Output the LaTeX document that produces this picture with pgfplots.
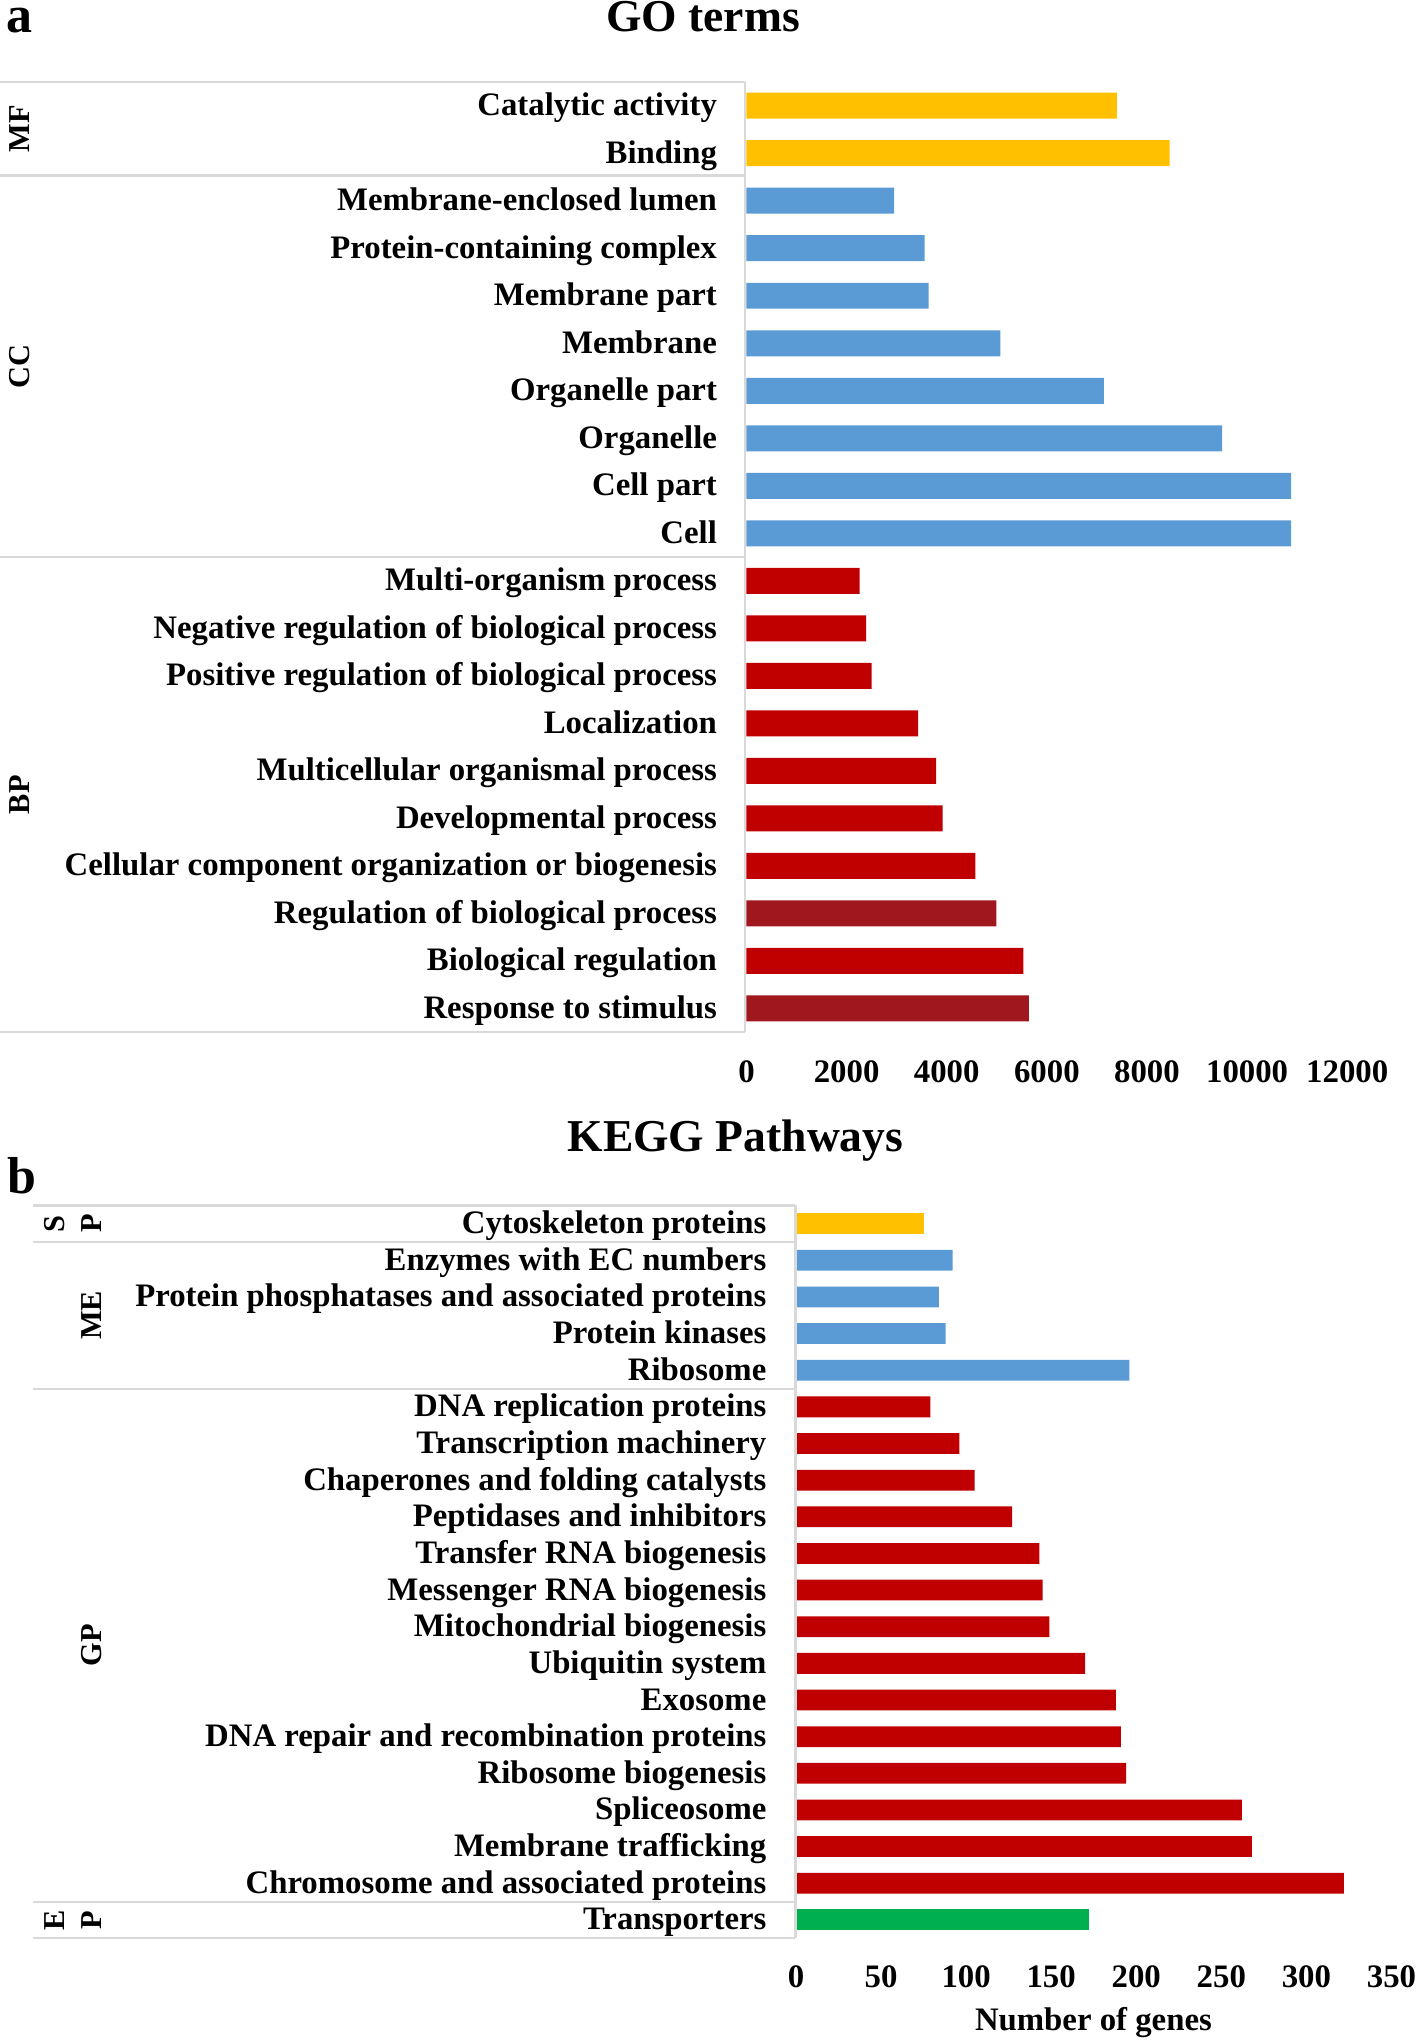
\documentclass[border=0pt]{standalone}
\usepackage{fontspec}
\setmainfont{Liberation Serif}
\usepackage{pgfplots}
\pgfplotsset{compat=1.18}
\definecolor{cy}{HTML}{FFC000}
\definecolor{cb}{HTML}{5B9BD5}
\definecolor{cr}{HTML}{C00000}
\definecolor{cdr}{HTML}{A0171E}
\definecolor{cg}{HTML}{00B050}
\definecolor{cl}{HTML}{D9D9D9}
\newcommand{\lab}{\fontsize{8.2}{9}\selectfont\bfseries}
\newcommand{\grp}{\fontsize{7.6}{9}\selectfont\bfseries}
\pgfplotsset{
  mybar/.style={
    scale only axis, xbar,
    axis line style={draw=none}, major tick length=0pt,
    ymin=0.5, ymax=20.5, ytick={1,...,20},
    yticklabel style={anchor=east, inner sep=0pt, xshift=-7.2pt, font=\lab, text height=0.7em, text depth=0.2em},
    xticklabel style={anchor=north, inner sep=0pt, font=\lab},
    /pgf/number format/assume math mode=true,
    /pgf/number format/1000 sep={},
    scaled x ticks=false,
    clip=false,
  }
}
\begin{document}
\begin{tikzpicture}
\path[use as bounding box] (0,0) rectangle (354.47pt,510.38pt);
% ---------- panel a ----------
\begin{axis}[mybar,
  at={(186.67pt,252.26pt)}, anchor=south west,
  width=150.22pt, height=237.62pt,
  xmin=0, xmax=12000, xtick={0,2000,...,12000},
  xticklabel style={yshift=-7pt},
  bar width=6.5pt,
  yticklabels={Response to stimulus, Biological regulation, Regulation of biological process,
    Cellular component organization or biogenesis, Developmental process,
    Multicellular organismal process, Localization, Positive regulation of biological process,
    Negative regulation of biological process, Multi-organism process, Cell, Cell part,
    Organelle, Organelle part, Membrane, Membrane part, Protein-containing complex,
    Membrane-enclosed lumen, Binding, Catalytic activity},
]
\addplot[xbar, bar shift=0pt, fill=cy, draw=none] coordinates {(7400,20) (8450,19)};
\addplot[xbar, bar shift=0pt, fill=cb, draw=none] coordinates {(2950,18) (3560,17) (3640,16) (5070,15) (7140,14) (9500,13) (10880,12) (10880,11)};
\addplot[xbar, bar shift=0pt, fill=cr, draw=none] coordinates {(2260,10) (2390,9) (2500,8) (3430,7) (3790,6) (3920,5) (4570,4) (5530,2)};
\addplot[xbar, bar shift=0pt, fill=cdr, draw=none] coordinates {(4990,3) (5640,1)};
\end{axis}
% ---------- panel b ----------
\begin{axis}[mybar,
  at={(199.04pt,25.71pt)}, anchor=south west,
  width=148.92pt, height=183.26pt,
  xmin=0, xmax=350, xtick={0,50,...,350},
  xticklabel style={yshift=-6.6pt},
  bar width=5.2pt,
  yticklabels={Transporters, Chromosome and associated proteins, Membrane trafficking,
    Spliceosome, Ribosome biogenesis, DNA repair and recombination proteins, Exosome,
    Ubiquitin system, Mitochondrial biogenesis, Messenger RNA biogenesis,
    Transfer RNA biogenesis, Peptidases and inhibitors, Chaperones and folding catalysts,
    Transcription machinery, DNA replication proteins, Ribosome, Protein kinases,
    Protein phosphatases and associated proteins, Enzymes with EC numbers, Cytoskeleton proteins},
]
\addplot[xbar, bar shift=0pt, fill=cy, draw=none] coordinates {(75,20)};
\addplot[xbar, bar shift=0pt, fill=cb, draw=none] coordinates {(92,19) (84,18) (88,17) (196,16)};
\addplot[xbar, bar shift=0pt, fill=cr, draw=none] coordinates {(79,15) (96,14) (105,13) (127,12) (143,11) (145,10) (149,9) (170,8) (188,7) (191,6) (194,5) (262,4) (268,3) (322,2)};
\addplot[xbar, bar shift=0pt, fill=cg, draw=none] coordinates {(172,1)};
\end{axis}
% ---------- annotations (displayed-pixel coordinates) ----------
\begin{scope}[x=0.3255pt, y=-0.3255pt, shift={(0pt,510.38pt)}]
  % panel a table
  \draw[cl, line width=0.6pt] (0,63) -- (572.5,63) (0,135) -- (572.5,135) (0,428) -- (572.5,428) (0,793) -- (572.5,793) (572.5,63) -- (572.5,793);
  \node[rotate=90, font=\grp] at (15,99) {MF};
  \node[rotate=90, font=\grp] at (15,281.5) {CC};
  \node[rotate=90, font=\grp] at (15,610.5) {BP};
  \node[font=\fontsize{11.4}{13}\selectfont\bfseries] at (540,13) {GO terms};
  \node[font=\fontsize{13}{15}\selectfont\bfseries, anchor=base, inner sep=0pt] at (15,25) {a};
  % panel b table
  \draw[cl, line width=0.6pt] (25,926) -- (611,926) (25,954) -- (611,954) (25,1067) -- (611,1067) (25,1461) -- (611,1461) (25,1489) -- (611,1489) (611,926) -- (611,1489);
  \node[rotate=90, font=\grp] at (42,940) {S};
  \node[rotate=90, font=\grp] at (70,940) {P};
  \node[rotate=90, font=\grp] at (70,1010.5) {ME};
  \node[rotate=90, font=\grp] at (70,1264) {GP};
  \node[rotate=90, font=\grp] at (42,1475) {E};
  \node[rotate=90, font=\grp] at (70,1475) {P};
  \node[font=\fontsize{11.4}{13}\selectfont\bfseries] at (565,876) {KEGG Pathways};
  \node[font=\fontsize{13}{15}\selectfont\bfseries] at (17,903) {b};
  \node[font=\lab] at (840,1554) {Number of genes};
\end{scope}
\end{tikzpicture}
\end{document}
